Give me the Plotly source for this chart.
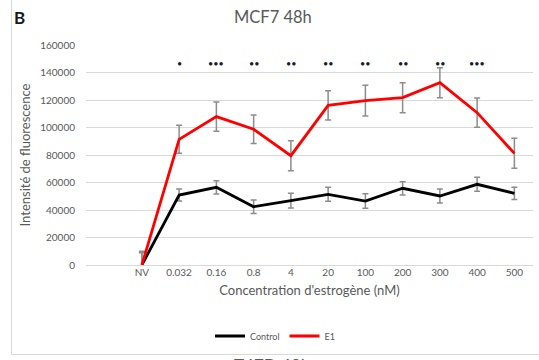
import plotly.graph_objects as go

# Estrogen concentrations (nM); the first slot of the axis is left empty
concentrations = ["NV", "0.032", "0.16", "0.8", "4", "20", "100", "200", "300", "400", "500"]
axis_categories = [" "] + concentrations

# Mean fluorescence intensity and standard error per condition
control_mean = [0, 50900, 56500, 42400, 46800, 51400, 46500, 55800, 50200, 58700, 52100]
control_err = [10000, 4400, 4800, 4900, 5400, 5100, 5300, 4800, 5100, 5100, 4400]
e1_mean = [0, 91400, 107900, 98700, 79500, 116100, 119500, 121700, 132600, 110800, 81200]
e1_err = [9000, 10200, 10700, 10400, 10900, 10700, 11200, 10900, 10900, 10700, 10900]

# Significance marks E1 vs Control
significance = ["", "*", "***", "**", "**", "**", "**", "**", "**", "***", ""]
sig_level = 146500

FONT = "Lato"
GREY_TXT = "#595959"
GRID = "#d9d9d9"

W, H = 539, 360
L, R, T, B = 86, 6, 45, 95


def px_to_paper_x(px):
    return (px - L) / (W - L - R)


def px_to_paper_y(py):
    return (H - B - py) / (H - T - B)


fig = go.Figure()

err_style = dict(type="data", visible=True, color="#8c8c8c", thickness=1.5, width=3)

fig.add_trace(go.Scatter(
    x=concentrations, y=control_mean, name="Control", mode="lines",
    line=dict(color="#000000", width=2.8),
    error_y=dict(array=control_err, **err_style),
))
fig.add_trace(go.Scatter(
    x=concentrations, y=e1_mean, name="E1", mode="lines",
    line=dict(color="#ff0000", width=2.8),
    error_y=dict(array=e1_err, **err_style),
))

annotations = []
for cat, mark in zip(concentrations, significance):
    if mark:
        # category position given by index so numeric-looking labels are not misread
        annotations.append(dict(
            x=axis_categories.index(cat), y=sig_level, xref="x", yref="y",
            showarrow=False, text="\u2022" * len(mark),
            font=dict(family=FONT, size=9, color="#1a1a2e"),
        ))

# Panel letter and chart title
annotations.append(dict(
    x=px_to_paper_x(12), y=px_to_paper_y(17), xref="paper", yref="paper",
    xanchor="left", yanchor="middle", showarrow=False, text="<b>B</b>",
    font=dict(family=FONT, size=17, color="#1a1a1a"),
))
annotations.append(dict(
    x=px_to_paper_x(273), y=px_to_paper_y(17), xref="paper", yref="paper",
    xanchor="center", yanchor="middle", showarrow=False, text="MCF7 48h",
    font=dict(family=FONT, size=16.5, color=GREY_TXT),
))
# Title of the next panel below, cut by the page edge
annotations.append(dict(
    x=px_to_paper_x(272), y=px_to_paper_y(353), xref="paper", yref="paper",
    xanchor="center", yanchor="top", showarrow=False, text="T47D 48h",
    font=dict(family=FONT, size=17, color=GREY_TXT),
))

shapes = [
    dict(type="line", xref="paper", yref="paper",
         x0=px_to_paper_x(11.5), x1=px_to_paper_x(11.5),
         y0=px_to_paper_y(0), y1=px_to_paper_y(354.5),
         line=dict(color=GRID, width=1)),
    dict(type="line", xref="paper", yref="paper",
         x0=px_to_paper_x(11.5), x1=px_to_paper_x(539),
         y0=px_to_paper_y(354.5), y1=px_to_paper_y(354.5),
         line=dict(color=GRID, width=1)),
]

fig.update_layout(
    width=W, height=H,
    margin=dict(l=L, r=R, t=T, b=B),
    paper_bgcolor="white", plot_bgcolor="white",
    font=dict(family=FONT, color=GREY_TXT),
    showlegend=True,
    legend=dict(
        orientation="h", x=px_to_paper_x(275), xanchor="center",
        y=px_to_paper_y(336), yanchor="middle",
        font=dict(family=FONT, size=9, color=GREY_TXT),
        itemwidth=30, tracegroupgap=0,
    ),
    annotations=annotations,
    shapes=shapes,
)

fig.update_xaxes(
    type="category", categoryorder="array", categoryarray=axis_categories,
    range=[-0.5, 11.5], showgrid=False, zeroline=False, showline=False,
    ticks="", tickfont=dict(family=FONT, size=10, color=GREY_TXT),
    title=dict(text="Concentration d'estrogène (nM)",
               font=dict(family=FONT, size=13, color=GREY_TXT), standoff=8),
)
fig.update_yaxes(
    range=[0, 160000], tickvals=list(range(0, 160001, 20000)), tickformat="d",
    showgrid=True, gridcolor=GRID, gridwidth=1,
    zeroline=True, zerolinecolor=GRID, zerolinewidth=1, showline=False,
    ticks="", ticklabelstandoff=10,
    tickfont=dict(family=FONT, size=10, color=GREY_TXT),
    title=dict(text="Intensité de fluorescence",
               font=dict(family=FONT, size=13, color=GREY_TXT), standoff=6),
)

fig.write_html("out.html")
